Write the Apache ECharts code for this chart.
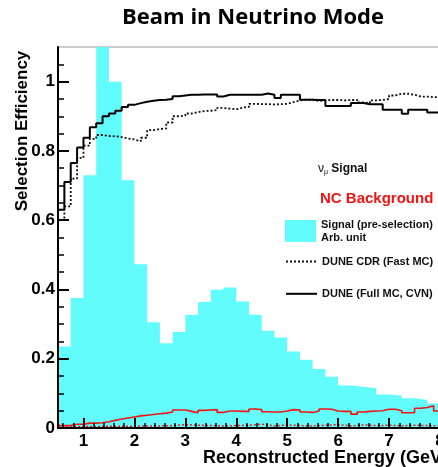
<!DOCTYPE html>
<html>
<head>
<meta charset="utf-8">
<script src="https://cdn.jsdelivr.net/npm/echarts@6/dist/echarts.min.js"></script>
<style>
html, body { margin: 0; padding: 0; background: #fff; }
#chart { width: 438px; height: 467px; }
</style>
</head>
<body>
<div id="chart"></div>
<script>
// histogram bins start at 0.5 GeV
const binLo = 0.5;
const signalBinWidth = 0.25;
const effBinWidth = 0.125;

// cyan: signal before selection, arbitrary units (0.25 GeV bins)
const signalPreSel = [0.235, 0.375, 0.73, 1.3, 1.0, 0.715, 0.473, 0.305, 0.245, 0.277,
    0.326, 0.364, 0.399, 0.406, 0.365, 0.327, 0.281, 0.261, 0.221, 0.197,
    0.170, 0.148, 0.123, 0.119, 0.115, 0.097, 0.093, 0.086, 0.081, 0.071];

// efficiencies, 0.125 GeV bins
const effCVN = [0.63, 0.71, 0.765, 0.81, 0.838, 0.868, 0.88, 0.90, 0.908, 0.916,
    0.927, 0.933, 0.938, 0.942, 0.945, 0.947, 0.948, 0.95, 0.958, 0.96,
    0.962, 0.962, 0.963, 0.963, 0.963, 0.957, 0.962, 0.962, 0.962, 0.962,
    0.962, 0.962, 0.966, 0.962, 0.953, 0.962, 0.962, 0.962, 0.948, 0.948,
    0.947, 0.947, 0.93, 0.93, 0.93, 0.93, 0.938, 0.938, 0.935, 0.935,
    0.935, 0.919, 0.919, 0.919, 0.907, 0.919, 0.919, 0.919, 0.911, 0.911];
const effCDR = [0.60, 0.64, 0.72, 0.78, 0.815, 0.835, 0.846, 0.843, 0.842, 0.840,
    0.836, 0.833, 0.828, 0.838, 0.860, 0.863, 0.865, 0.882, 0.900, 0.902,
    0.908, 0.912, 0.915, 0.916, 0.918, 0.924, 0.922, 0.920, 0.925, 0.927,
    0.936, 0.935, 0.935, 0.934, 0.935, 0.936, 0.941, 0.946, 0.948, 0.948,
    0.944, 0.946, 0.947, 0.947, 0.946, 0.947, 0.947, 0.940, 0.938, 0.946,
    0.947, 0.950, 0.960, 0.965, 0.965, 0.962, 0.957, 0.957, 0.955, 0.955];
const ncCVN = [0.007, 0.007, 0.011, 0.011, 0.014, 0.014, 0.015, 0.018, 0.022, 0.026,
    0.029, 0.032, 0.035, 0.037, 0.039, 0.041, 0.043, 0.046, 0.052, 0.052,
    0.048, 0.044, 0.051, 0.052, 0.053, 0.045, 0.049, 0.049, 0.048, 0.048,
    0.055, 0.053, 0.047, 0.046, 0.046, 0.049, 0.053, 0.052, 0.046, 0.045,
    0.049, 0.055, 0.054, 0.049, 0.048, 0.048, 0.040, 0.046, 0.048, 0.049,
    0.050, 0.054, 0.054, 0.050, 0.044, 0.044, 0.057, 0.059, 0.064, 0.049];
// 0.25 GeV bins
const ncCDR = [0.003, 0.004, 0.004, 0.005, 0.005, 0.005, 0.006, 0.006, 0.007, 0.010,
    0.008, 0.007, 0.006, 0.007, 0.008, 0.011, 0.006, 0.009, 0.007, 0.006,
    0.008, 0.010, 0.006, 0.009, 0.007, 0.008, 0.006, 0.008, 0.007, 0.006];

const xMajorTicks = [1, 2, 3, 4, 5, 6, 7, 8];
const yMajorTicks = [0, 0.2, 0.4, 0.6, 0.8, 1.0];

const xMinorTicks = [];
for (let i = 3; i <= 40; i++) {
    const v = Math.round(i * 2) / 10;
    if (!xMajorTicks.includes(v)) xMinorTicks.push(v);
}
const yMinorTicks = [];
for (let i = 1; i <= 21; i++) {
    const v = Math.round(i * 5) / 100;
    if (!yMajorTicks.includes(v)) yMinorTicks.push(v);
}

function histPoints(vals, w) {
    const pts = vals.map((v, i) => [binLo + i * w, v]);
    pts.push([binLo + vals.length * w, vals[vals.length - 1]]);
    return pts;
}

const CYAN = '#62fcfc';
const RED = '#f01414';
const FONT = '"Liberation Sans", Arial, sans-serif';

const minorAxis = {
    type: 'value', min: 0.5, max: 8, z: 5,
    axisLine: {show: false}, axisLabel: {show: false}, splitLine: {show: false},
};

const option = {
    animation: false,
    backgroundColor: '#fff',
    title: {
        text: 'Beam in Neutrino Mode',
        left: 248, top: 2, textAlign: 'center',
        textStyle: {fontFamily: '"Open Sans", sans-serif', fontWeight: 'bold', fontSize: 22, color: '#000'},
    },
    grid: {
        left: 58, top: 47, width: 382, height: 381,
        outerBoundsMode: 'none',
        show: true, borderColor: '#999', borderWidth: 1,
    },
    legend: [
        {
            data: [{name: 'Signal (pre-selection)', icon: 'rect'}],
            left: 285, top: 218, padding: 0, itemWidth: 31, itemHeight: 22,
            formatter: (n) => n + '\nArb. unit',
            textStyle: {fontFamily: FONT, fontWeight: 'bold', fontSize: 11, lineHeight: 13, color: '#111'},
            selectedMode: false,
        },
        {
            data: ['DUNE CDR (Fast MC)', 'DUNE (Full MC, CVN)'],
            orient: 'vertical',
            left: 285, top: 256, padding: 0, itemWidth: 31, itemHeight: 14, itemGap: 21,
            itemStyle: {opacity: 0},
            textStyle: {fontFamily: FONT, fontWeight: 'bold', fontSize: 11, color: '#111'},
            selectedMode: false,
        },
    ],
    xAxis: [
        {
            type: 'value', min: 0.5, max: 8, z: 5,
            axisLine: {lineStyle: {color: '#000', width: 2}},
            axisTick: {inside: true, length: 10, customValues: xMajorTicks, lineStyle: {color: '#000', width: 2}},
            axisLabel: {customValues: xMajorTicks, margin: 5,
                fontFamily: FONT, fontWeight: 'bold', fontSize: 17, color: '#000'},
            splitLine: {show: false},
        },
        Object.assign({}, minorAxis, {
            position: 'bottom',
            axisTick: {inside: true, length: 5, customValues: xMinorTicks, lineStyle: {color: '#000', width: 1.5}},
        }),
    ],
    yAxis: [
        {
            type: 'value', min: 0, max: 1.1, z: 5,
            axisLine: {show: true, lineStyle: {color: '#000', width: 2}},
            axisTick: {show: true, inside: true, length: 11, customValues: yMajorTicks, lineStyle: {color: '#000', width: 2}},
            axisLabel: {customValues: yMajorTicks, margin: 3,
                formatter: (v) => String(+v.toFixed(1)),
                fontFamily: FONT, fontWeight: 'bold', fontSize: 17, color: '#000'},
            splitLine: {show: false},
        },
        Object.assign({}, minorAxis, {
            min: 0, max: 1.1, position: 'left',
            axisTick: {show: true, inside: true, length: 6, customValues: yMinorTicks, lineStyle: {color: '#000', width: 1.5}},
        }),
    ],
    graphic: [
        {
            type: 'text', x: 22, y: 131, rotation: Math.PI / 2,
            style: {text: 'Selection Efficiency', align: 'center', verticalAlign: 'middle',
                font: 'bold 17px "Liberation Sans", Arial, sans-serif', fill: '#000'},
        },
        {
            type: 'text', x: 203, y: 458,
            style: {text: 'Reconstructed Energy (GeV)', verticalAlign: 'middle',
                font: 'bold 18px "Liberation Sans", Arial, sans-serif', fill: '#000'},
        },
        {
            type: 'text', x: 318, y: 169,
            style: {
                text: '{nu|ν}{mu|μ} {b|Signal}',
                verticalAlign: 'middle',
                rich: {
                    nu: {fontFamily: FONT, fontSize: 12, fill: '#111'},
                    mu: {fontFamily: FONT, fontSize: 7, fill: '#111', padding: [6, 0, 0, 0]},
                    b: {fontFamily: FONT, fontWeight: 'bold', fontSize: 12, fill: '#111'},
                },
            },
        },
        {
            type: 'text', x: 320, y: 199,
            style: {text: 'NC Background', verticalAlign: 'middle',
                font: 'bold 15px "Liberation Sans", Arial, sans-serif', fill: RED},
        },
    ],
    series: [
        {
            name: 'Signal (pre-selection)', type: 'line', step: 'end', symbol: 'none',
            data: histPoints(signalPreSel, signalBinWidth),
            itemStyle: {color: CYAN},
            lineStyle: {color: CYAN, width: 0},
            areaStyle: {color: CYAN, opacity: 1},
            z: 1,
        },
        {
            name: 'NC Background CDR', type: 'line', step: 'end', symbol: 'none',
            data: histPoints(ncCDR, signalBinWidth),
            lineStyle: {color: RED, width: 1.5, type: [2, 2]},
            itemStyle: {color: RED},
            z: 2,
        },
        {
            name: 'NC Background CVN', type: 'line', step: 'end', symbol: 'none',
            data: histPoints(ncCVN, effBinWidth),
            lineStyle: {color: RED, width: 1.6},
            itemStyle: {color: RED},
            z: 3,
        },
        {
            name: 'DUNE CDR (Fast MC)', type: 'line', step: 'end', symbol: 'none',
            data: histPoints(effCDR, effBinWidth),
            lineStyle: {color: '#111', width: 1.8, type: [2, 2]},
            itemStyle: {color: '#111'},
            z: 3,
        },
        {
            name: 'DUNE (Full MC, CVN)', type: 'line', step: 'end', symbol: 'none',
            data: histPoints(effCVN, effBinWidth),
            lineStyle: {color: '#000', width: 2},
            itemStyle: {color: '#000'},
            z: 4,
        },
    ],
};

const myChart = echarts.init(document.getElementById('chart'), null, {renderer: 'canvas'});
myChart.setOption(option);
</script>
</body>
</html>
